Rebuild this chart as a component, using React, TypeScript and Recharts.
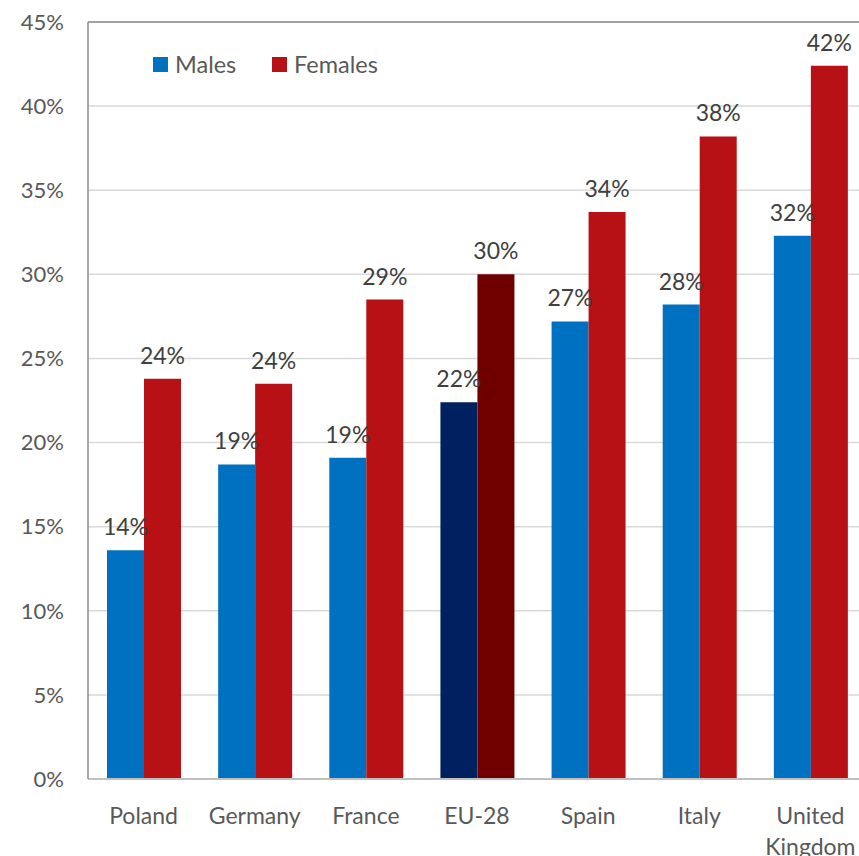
import { BarChart, Bar, XAxis, YAxis, CartesianGrid, ReferenceLine, Cell, LabelList } from "recharts";

const countries = ["Poland", "Germany", "France", "EU-28", "Spain", "Italy", "United Kingdom"];
const males = [13.6, 18.7, 19.1, 22.4, 27.2, 28.2, 32.3];
const females = [23.8, 23.5, 28.5, 30.0, 33.7, 38.2, 42.4];
const yTicks = [0, 5, 10, 15, 20, 25, 30, 35, 40, 45];

const data = countries.map((c, i) => ({ country: c, males: males[i], females: females[i] }));

const FONT = "Lato, 'Open Sans', sans-serif";
const TEXT = "#595959";

function CountryTick({ x, y, payload }: any) {
  const words = String(payload.value).split(" ");
  return (
    <text x={x} y={y} textAnchor="middle" fill={TEXT} fontSize={23} fontFamily={FONT}>
      {words.map((w, i) => (
        <tspan key={w} x={x} dy={i === 0 ? 43 : 31}>
          {w}
        </tspan>
      ))}
    </text>
  );
}

function Legend2() {
  const items = [
    { name: "Males", color: "#0070C0", x: 153 },
    { name: "Females", color: "#B71116", x: 272 },
  ];
  return (
    <div style={{ position: "absolute", left: 0, top: 0 }}>
      {items.map((it) => (
        <div
          key={it.name}
          style={{ position: "absolute", left: it.x, top: 50, display: "flex", alignItems: "center", whiteSpace: "nowrap" }}
        >
          <span style={{ width: 15, height: 15, background: it.color, display: "inline-block", marginRight: 7 }} />
          <span style={{ fontFamily: FONT, fontSize: 23.5, color: TEXT, lineHeight: "28px" }}>{it.name}</span>
        </div>
      ))}
    </div>
  );
}

export default function App() {
  return (
    <div style={{ position: "fixed", left: 0, top: 0, width: 859, height: 856, overflow: "hidden", background: "#fff" }}>
      <BarChart
        width={866}
        height={856}
        data={data}
        margin={{ top: 22, right: 0, bottom: 0, left: 0 }}
        barGap={0}
        barSize={37}
      >
        <CartesianGrid vertical={false} stroke="#d9d9d9" strokeWidth={1.5} />
        <XAxis
          dataKey="country"
          height={77}
          tickLine={false}
          tickSize={0}
          axisLine={{ stroke: "#c0c0c0", strokeWidth: 2 }}
          interval={0}
          tick={<CountryTick />}
        />
        <YAxis
          width={88}
          domain={[0, 45]}
          ticks={yTicks}
          tickFormatter={(v) => `${v}%`}
          tickLine={false}
          tickSize={0}
          tickMargin={24}
          axisLine={{ stroke: "#8c8c8c", strokeWidth: 1.5 }}
          tick={{ fill: TEXT, fontSize: 22, fontFamily: FONT }}
        />
        <ReferenceLine y={45} stroke="#8c8c8c" strokeWidth={1.5} />
        <Bar dataKey="males" isAnimationActive={false}>
          {data.map((d) => (
            <Cell key={d.country} fill={d.country === "EU-28" ? "#00215F" : "#0070C0"} />
          ))}
          <LabelList
            dataKey="males"
            position="top"
            offset={15}
            formatter={(v: any) => `${Math.round(v)}%`}
            style={{ fill: "#404040", fontSize: 23, fontFamily: FONT }}
          />
        </Bar>
        <Bar dataKey="females" isAnimationActive={false}>
          {data.map((d) => (
            <Cell key={d.country} fill={d.country === "EU-28" ? "#700000" : "#B71116"} />
          ))}
          <LabelList
            dataKey="females"
            position="top"
            offset={15}
            formatter={(v: any) => `${Math.round(v)}%`}
            style={{ fill: "#404040", fontSize: 23, fontFamily: FONT }}
          />
        </Bar>
      </BarChart>
      <Legend2 />
    </div>
  );
}
